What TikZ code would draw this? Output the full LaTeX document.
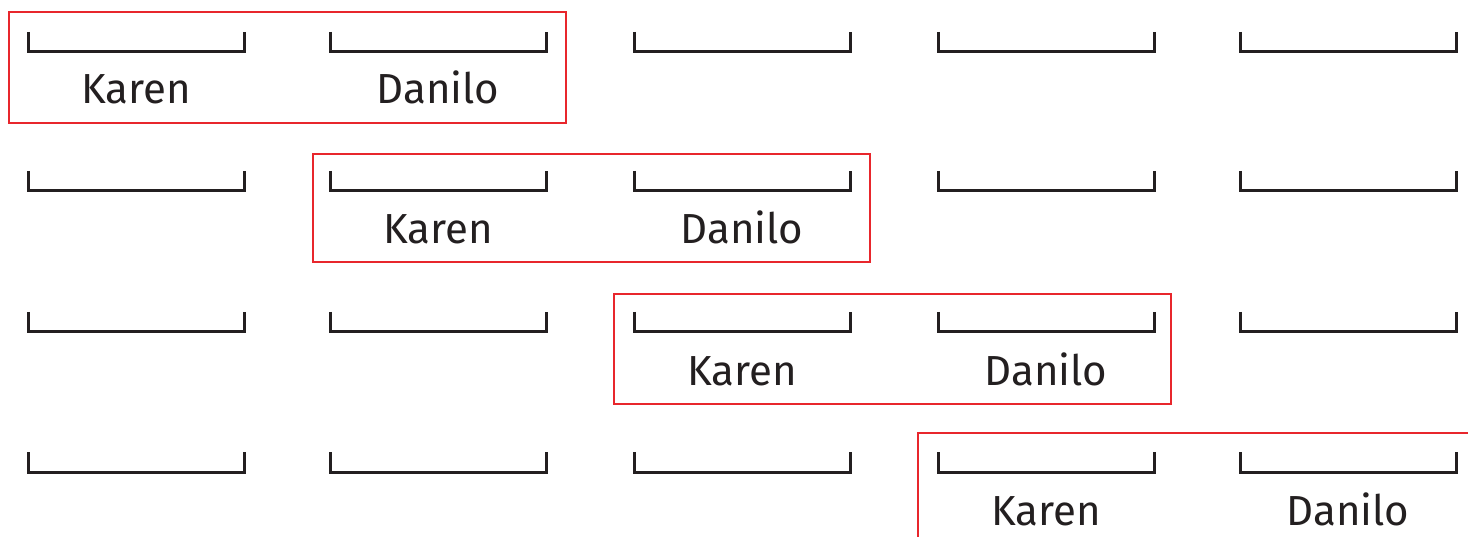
\documentclass[tikz,border=0pt]{standalone}
\usepackage{fontspec}
\setmainfont{Fira Sans}
\definecolor{ink}{HTML}{231F20}
\definecolor{frame}{HTML}{E8262C}
\begin{document}
\begin{tikzpicture}[x=1pt,y=-1pt,
  slot/.style={draw=ink,line width=3pt},
  person/.style={text=ink,font=\fontsize{42}{42}\selectfont,anchor=base,inner sep=0pt},
  pairframe/.style={draw=frame,line width=2.6pt}]
\useasboundingbox (0,0) rectangle (1468,537);
\clip (0,0) rectangle (1468,537);
% five blank slots per row
\foreach \r/\yb in {0/52,1/191,2/332,3/472}{
  \foreach \c/\xc in {0/136,1/438,2/742,3/1046,4/1348}{
    \draw[slot] (\xc-108,\yb-20) -- (\xc-108,\yb) -- (\xc+108,\yb) -- (\xc+108,\yb-20);
  }
}
% names under the filled pair in each row
\node[person] (k1) at (136,104) {Karen};
\node[person] (d1) at (438,104) {Danilo};
\node[person] (k2) at (438,244) {Karen};
\node[person] (d2) at (742,244) {Danilo};
\node[person] (k3) at (742,385) {Karen};
\node[person] (d3) at (1046,385) {Danilo};
\node[person] (k4) at (1046,525) {Karen};
\node[person] (d4) at (1348,525) {Danilo};
% frames around the pair
\draw[pairframe] (9,12) rectangle (566,123);
\draw[pairframe] (313,154) rectangle (870,262);
\draw[pairframe] (614,294) rectangle (1171,404);
\draw[pairframe] (918,433) rectangle (1480,560);
\end{tikzpicture}
\end{document}
